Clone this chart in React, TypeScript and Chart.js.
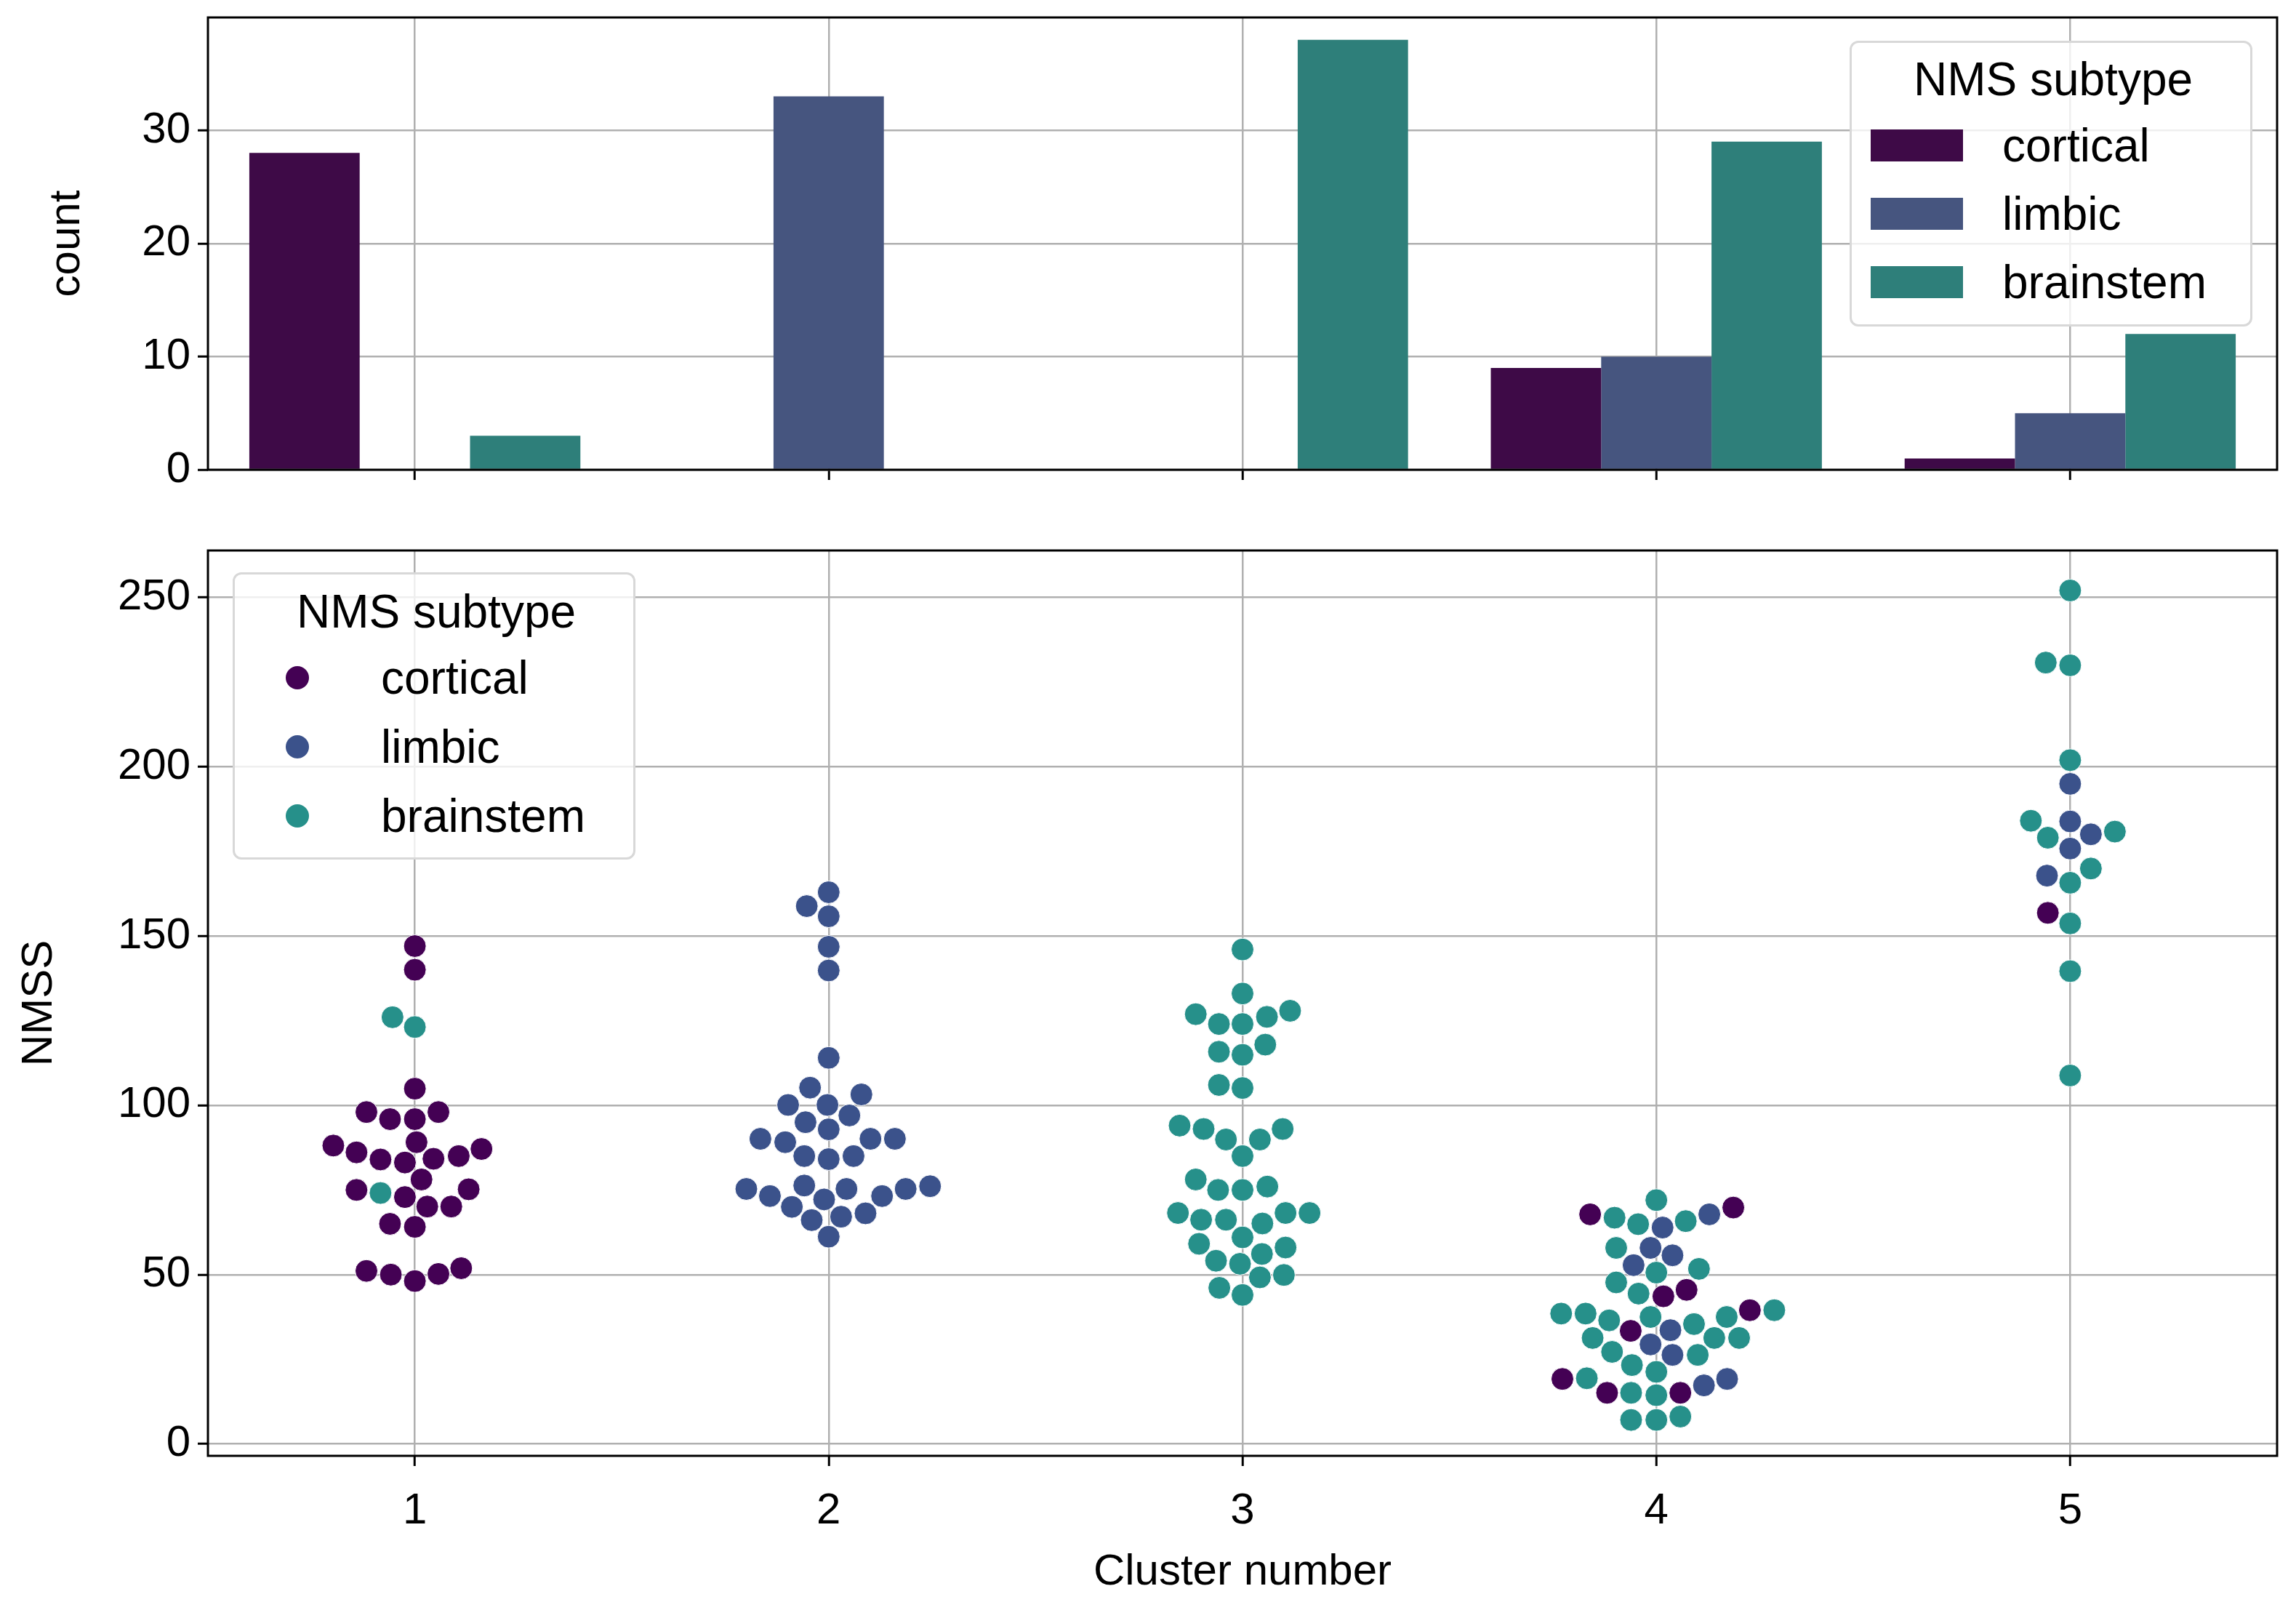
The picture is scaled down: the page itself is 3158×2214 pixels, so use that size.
import React, { useEffect, useRef } from "react";
import { Chart, registerables } from "chart.js";
Chart.register(...registerables);

const clusters = ["1", "2", "3", "4", "5"];
const subtypes = ["cortical", "limbic", "brainstem"];
const barColors = ["#3e0a47", "#46557f", "#2e7f7a"];
const dotColors = ["#440154", "#3b528b", "#26908a"];
const countTicks = [0, 10, 20, 30];
const nmssTicks = [0, 50, 100, 150, 200, 250];

const corticalCounts = [28, 0, 0, 9, 1];
const limbicCounts = [0, 33, 0, 10, 5];
const brainstemCounts = [3, 0, 38, 29, 12];

// swarm points: cluster, NMSS value, horizontal swarm offset
const corticalCluster = [...Array(28).fill(1), ...Array(9).fill(4), 5];
const corticalNMSS = [147, 140, 104.9, 98, 95.9, 95.9, 98, 88.1, 86.1, 84, 83.1, 89.1, 84.2, 85, 87.1, 78.1, 75, 72.9, 75.2, 70.1, 70.1, 65, 64.1, 51.1, 50, 48.1, 50.2, 51.9,
  67.8, 69.8, 43.6, 45.5, 33.4, 39.5, 19.2, 15.1, 15.1,
  156.8];
const corticalOffset = [0, 0, 0, -0.117, -0.06, 0, 0.057, -0.197, -0.141, -0.083, -0.024, 0.004, 0.045, 0.106, 0.161, 0.016, -0.141, -0.024, 0.13, 0.03, 0.088, -0.06, 0, -0.117, -0.058, 0, 0.057, 0.112,
  -0.16, 0.186, 0.017, 0.073, -0.062, 0.226, -0.227, -0.119, 0.058,
  -0.054];

const limbicCluster = [...Array(33).fill(2), ...Array(10).fill(4), ...Array(5).fill(5)];
const limbicNMSS = [162.9, 158.8, 155.8, 146.8, 139.8, 114, 105.2, 103.2, 100.1, 100.1, 97, 95, 92.9, 90.1, 89.1, 90.1, 90.1, 85, 84.1, 85, 75.3, 73.2, 76.3, 72.2, 75.3, 73.2, 75.3, 76.1, 70, 66.1, 67.1, 68.1, 61.2,
  63.9, 67.8, 57.9, 55.7, 52.8, 33.6, 29.4, 26.3, 17.3, 19.2,
  194.9, 183.8, 180, 175.8, 167.8];
const limbicOffset = [0, -0.053, 0, 0, 0, 0, -0.045, 0.079, -0.098, -0.003, 0.05, -0.056, 0, -0.165, -0.105, 0.101, 0.16, -0.059, 0, 0.06, -0.199, -0.142, -0.059, -0.011, 0.043, 0.129, 0.186, 0.245, -0.089, -0.041, 0.03, 0.089, 0,
  0.015, 0.128, -0.014, 0.039, -0.055, 0.034, -0.014, 0.039, 0.115, 0.171,
  0, 0, 0.05, 0, -0.056];

const brainstemCluster = [...Array(3).fill(1), ...Array(38).fill(3), ...Array(29).fill(4), ...Array(12).fill(5)];
const brainstemNMSS = [126, 123.1, 74.1,
  146, 133, 126.9, 124, 124, 126.1, 127.9, 115.8, 114.9, 117.9, 106, 105.1, 94, 93, 89.9, 89.9, 93, 85, 78.1, 75, 75, 76, 68.2, 66.2, 66.2, 65.1, 68.2, 68.2, 61, 59.1, 56.1, 58, 54.1, 53.2, 49.2, 49.9, 46.1, 44,
  72, 66.8, 64.9, 65.8, 57.9, 50.6, 51.7, 47.7, 44.4, 38.5, 38.5, 36.5, 37.5, 35.4, 37.5, 39.5, 31.3, 31.3, 31.3, 27.2, 26.3, 23.3, 21.3, 19.4, 15.1, 14.4, 7.1, 7.1, 8.1,
  252, 230.7, 229.9, 201.9, 184, 179, 180.8, 169.9, 165.7, 153.7, 139.6, 108.8];
const brainstemOffset = [-0.054, 0, -0.083,
  0, 0, -0.113, -0.057, 0, 0.059, 0.115, -0.057, 0, 0.055, -0.057, 0, -0.152, -0.094, -0.04, 0.042, 0.097, 0, -0.113, -0.059, 0, 0.06, -0.156, -0.1, -0.04, 0.048, 0.104, 0.162, 0, -0.105, 0.047, 0.104, -0.064, -0.006, 0.042, 0.1, -0.056, 0,
  0, -0.101, -0.044, 0.071, -0.097, 0, 0.103, -0.097, -0.043, -0.23, -0.171, -0.114, -0.014, 0.091, 0.17, 0.285, -0.154, 0.14, 0.2, -0.107, 0.1, -0.059, 0, -0.168, -0.061, 0, -0.061, 0, 0.058,
  0, -0.059, 0, 0, -0.095, -0.054, 0.108, 0.05, 0, 0, 0, 0];

const FONT = "'Liberation Sans', Arial, sans-serif";
const GRID = "#b0b0b0";

const framePlugin = {
  id: "frame",
  afterDraw(chart: any) {
    const { ctx, chartArea: a } = chart;
    ctx.save();
    ctx.strokeStyle = "#000";
    ctx.lineWidth = 3;
    ctx.strokeRect(a.left, a.top, a.right - a.left, a.bottom - a.top);
    ctx.restore();
  },
};

function pts(c: number[], v: number[], o: number[]) {
  return c.map((cl, i) => ({ x: cl + o[i], y: v[i] }));
}

export default function App() {
  const topRef = useRef<HTMLCanvasElement>(null);
  const botRef = useRef<HTMLCanvasElement>(null);

  useEffect(() => {
    const tickFont = { family: FONT, size: 60 };
    const titleFont = { family: FONT, size: 60 };
    const gridOpts = { color: GRID, lineWidth: 2.5, tickLength: 14, tickColor: "#000", tickWidth: 3 };
    const counts = [corticalCounts, limbicCounts, brainstemCounts];
    const top = new Chart(topRef.current!, {
      type: "bar",
      data: {
        labels: clusters,
        datasets: subtypes.map((s, i) => ({
          label: s,
          data: counts[i],
          backgroundColor: barColors[i],
          borderWidth: 0,
          categoryPercentage: 0.8,
          barPercentage: 1.0,
        })),
      },
      options: {
        animation: false,
        responsive: false,
        layout: { padding: { top: 24, right: 26, left: 0, bottom: 0 } },
        plugins: { legend: { display: false }, tooltip: { enabled: false } },
        scales: {
          x: {
            grid: { ...gridOpts, offset: false },
            border: { display: false },
            ticks: { display: false },
            afterFit: (s: any) => { s.height = 54; },
          },
          y: {
            min: 0, max: 39.97,
            grid: gridOpts,
            border: { display: false },
            afterBuildTicks: (s: any) => { s.ticks = countTicks.map((v) => ({ value: v })); },
            ticks: { font: tickFont, color: "#000", padding: 10, callback: (v: any) => String(v) },
            title: { display: true, text: "count", font: titleFont, color: "#000", padding: { top: 56, bottom: 10 } },
            afterFit: (s: any) => { s.width = 286; s.paddingTop = 0; s.paddingBottom = 0; },
          },
        },
      },
      plugins: [framePlugin],
    });

    const pointSets = [
      pts(corticalCluster, corticalNMSS, corticalOffset),
      pts(limbicCluster, limbicNMSS, limbicOffset),
      pts(brainstemCluster, brainstemNMSS, brainstemOffset),
    ];
    const bot = new Chart(botRef.current!, {
      type: "scatter",
      data: {
        datasets: subtypes.map((s, i) => ({
          label: s,
          data: pointSets[i],
          backgroundColor: dotColors[i],
          borderColor: "#ffffff",
          borderWidth: 1,
          pointRadius: 15.5,
        })),
      },
      options: {
        animation: false,
        responsive: false,
        layout: { padding: { top: 57, right: 26, left: 0, bottom: 0 } },
        plugins: { legend: { display: false }, tooltip: { enabled: false } },
        scales: {
          x: {
            type: "linear",
            min: 0.5, max: 5.5,
            grid: gridOpts,
            border: { display: false },
            afterBuildTicks: (s: any) => { s.ticks = clusters.map((c) => ({ value: Number(c) })); },
            ticks: { font: tickFont, color: "#000", padding: 26, callback: (v: any) => String(v) },
            title: { display: true, text: "Cluster number", font: titleFont, color: "#000", padding: { top: 10, bottom: 16 } },
            afterFit: (s: any) => { s.height = 212; },
          },
          y: {
            min: -3.5, max: 263.8,
            grid: gridOpts,
            border: { display: false },
            afterBuildTicks: (s: any) => { s.ticks = nmssTicks.map((v) => ({ value: v })); },
            ticks: { font: tickFont, color: "#000", padding: 10, callback: (v: any) => String(v) },
            title: { display: true, text: "NMSS", font: titleFont, color: "#000", padding: { top: 18, bottom: 10 } },
            afterFit: (s: any) => { s.width = 286; },
          },
        },
      },
      plugins: [framePlugin],
    });
    return () => { top.destroy(); bot.destroy(); };
  }, []);

  const legendText: React.CSSProperties = { fontFamily: FONT, fontSize: 64, color: "#000", position: "absolute", lineHeight: "1", whiteSpace: "nowrap" };

  return (
    <div style={{ position: "fixed", left: 0, top: 0, width: 3158, height: 2214, background: "#fff" }}>
      <canvas ref={topRef} width={3158} height={700} style={{ position: "absolute", left: 0, top: 0, width: 3158, height: 700 }} />
      <canvas ref={botRef} width={3158} height={1514} style={{ position: "absolute", left: 0, top: 700, width: 3158, height: 1514 }} />
      {/* bar legend */}
      <div style={{ position: "absolute", left: 2544, top: 56, width: 554, height: 393, border: "3px solid #d8d8d8", borderRadius: 12, background: "rgba(255,255,255,0.8)", boxSizing: "border-box" }}>
        <div style={{ ...legendText, left: 0, width: 554, textAlign: "center", top: 18 }}>NMS subtype</div>
        {subtypes.map((s, i) => (
          <React.Fragment key={s}>
            <div style={{ position: "absolute", left: 26, top: 167 + i * 94 - 22 - 26, width: 127, height: 44, background: barColors[i] }} />
            <div style={{ ...legendText, left: 207, top: 167 + i * 94 - 32 - 26 }}>{s}</div>
          </React.Fragment>
        ))}
      </div>
      {/* swarm legend */}
      <div style={{ position: "absolute", left: 320, top: 787, width: 554, height: 395, border: "3px solid #d8d8d8", borderRadius: 12, background: "rgba(255,255,255,0.8)", boxSizing: "border-box" }}>
        <div style={{ ...legendText, left: 0, width: 554, textAlign: "center", top: 51 - 32 }}>NMS subtype</div>
        {subtypes.map((s, i) => (
          <React.Fragment key={s}>
            <div style={{ position: "absolute", left: 89 - 16 - 3, top: 145 + i * 95 - 16 - 3, width: 32, height: 32, borderRadius: 16, background: dotColors[i] }} />
            <div style={{ ...legendText, left: 204 - 3, top: 145 + i * 95 - 32 - 3 }}>{s}</div>
          </React.Fragment>
        ))}
      </div>
    </div>
  );
}
